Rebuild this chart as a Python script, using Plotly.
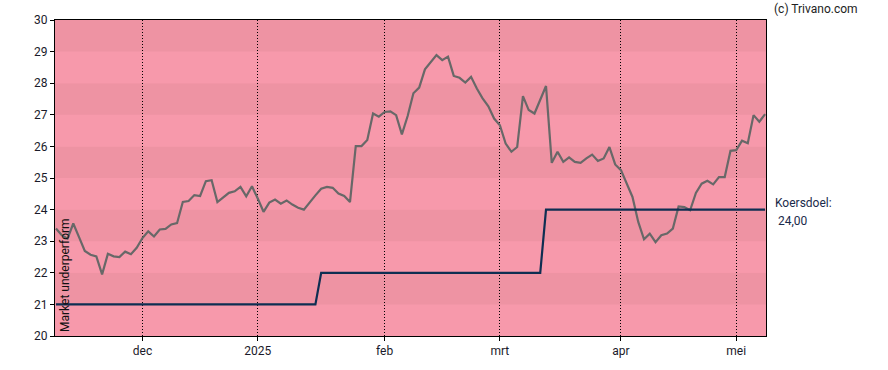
import pandas as pd
import plotly.graph_objects as go

# Trading days (Euronext), holidays removed
holidays = ["2024-12-25", "2024-12-26", "2025-01-01", "2025-04-18", "2025-04-21", "2025-05-01"]
dates = [d for d in pd.bdate_range("2024-11-11", "2025-05-09") if d.strftime("%Y-%m-%d") not in holidays]

price = [
    23.40, 23.19, 23.08, 23.56, 23.13, 22.69, 22.57, 22.52, 21.95, 22.60,
    22.52, 22.50, 22.67, 22.59, 22.79, 23.10, 23.31, 23.15, 23.37, 23.39,
    23.53, 23.57, 24.24, 24.27, 24.46, 24.43, 24.90, 24.93, 24.24, 24.40,
    24.53, 24.58, 24.72, 24.42, 24.74, 24.35, 23.93, 24.22, 24.32, 24.19,
    24.29, 24.16, 24.06, 24.00, 24.24, 24.45, 24.66, 24.72, 24.69, 24.51,
    24.43, 24.24, 26.01, 26.01, 26.20, 27.04, 26.94, 27.09, 27.11, 26.99,
    26.38, 26.96, 27.68, 27.86, 28.44, 28.65, 28.89, 28.73, 28.84, 28.23,
    28.17, 28.02, 28.20, 27.83, 27.52, 27.27, 26.88, 26.67, 26.09, 25.83,
    25.98, 27.59, 27.15, 27.04, 27.46, 27.91, 25.48, 25.83, 25.51, 25.65,
    25.51, 25.48, 25.62, 25.74, 25.54, 25.62, 25.98, 25.43, 25.25, 24.82,
    24.40, 23.61, 23.06, 23.24, 22.97, 23.19, 23.24, 23.40, 24.10, 24.08,
    23.98, 24.53, 24.82, 24.91, 24.80, 25.03, 25.03, 25.86, 25.88, 26.18,
    26.10, 26.99, 26.78, 27.02,
]

# Target price (koersdoel) changes: effective date -> value
target_change_dates = ["2024-11-11", "2025-01-17", "2025-03-13"]
target_change_values = [21.0, 22.0, 24.0]

month_labels = ["dec", "2025", "feb", "mrt", "apr", "mei"]
rating_label = "Market underperform"
target_label = "Koersdoel:"
target_value_label = "24,00"
copyright_label = "(c) Trivano.com"

n = min(len(dates), len(price))
x = list(range(n))

target = []
for d in dates[:n]:
    v = None
    for cd, cv in zip(target_change_dates, target_change_values):
        if d >= pd.Timestamp(cd):
            v = cv
    target.append(v)

tickvals = []
for i in range(1, n):
    if dates[i].month != dates[i - 1].month:
        tickvals.append(i)
tickvals = tickvals[:len(month_labels)]

fig = go.Figure()

dark_band = "#EE93A3"
light_band = "#F799AB"
shapes = []
for lvl in range(20, 30):
    shapes.append(dict(type="rect", xref="paper", yref="y", x0=0, x1=1, y0=lvl, y1=lvl + 1,
                       fillcolor=dark_band if (lvl % 2 == 1) else light_band,
                       line=dict(width=0), layer="below"))

fig.add_trace(go.Scatter(x=x, y=price, mode="lines",
                         line=dict(color="#686868", width=2.2), hoverinfo="skip"))
fig.add_trace(go.Scatter(x=x, y=target, mode="lines",
                         line=dict(color="#0E2E52", width=2.2), hoverinfo="skip"))

font_family = "Roboto, Arial, sans-serif"

fig.update_layout(
    width=888, height=370,
    margin=dict(l=55, r=122, t=20, b=34),
    paper_bgcolor="white",
    plot_bgcolor=light_band,
    showlegend=False,
    shapes=shapes,
    font=dict(family=font_family, size=12, color="#1a1a2a"),
    xaxis=dict(
        range=[-0.17, 123.16],
        tickmode="array", tickvals=tickvals, ticktext=month_labels,
        showgrid=True, gridcolor="black", griddash="1px,2px", gridwidth=1,
        showline=True, linecolor="black", linewidth=1, mirror=True,
        ticks="outside", ticklen=4, tickcolor="black",
        zeroline=False, layer="above traces",
        tickfont=dict(size=12),
    ),
    yaxis=dict(
        range=[20, 30], dtick=1, tick0=20,
        showgrid=False,
        showline=True, linecolor="black", linewidth=1, mirror=True,
        ticks="outside", ticklen=4, tickcolor="black",
        zeroline=False,
        tickfont=dict(size=12),
    ),
    annotations=[
        dict(text=rating_label, xref="paper", yref="paper", x=0, y=0, xanchor="left", yanchor="bottom",
             textangle=-90, showarrow=False, xshift=1, yshift=2, font=dict(size=12, color="#111")),
        dict(text=target_label, xref="paper", yref="y", x=1, y=24, xanchor="left", yanchor="middle",
             showarrow=False, xshift=7, yshift=7, font=dict(size=12, color="#1a2a4a")),
        dict(text=target_value_label, xref="paper", yref="y", x=1, y=24, xanchor="left", yanchor="middle",
             showarrow=False, xshift=10, yshift=-11, font=dict(size=12, color="#1a2a4a")),
        dict(text=copyright_label, xref="paper", yref="paper", x=1, y=1, xanchor="left", yanchor="bottom",
             showarrow=False, xshift=6, yshift=2, font=dict(size=12, color="#222")),
    ],
)

fig.write_html("out.html", config={"displayModeBar": False, "staticPlot": True},
               post_script="document.body.style.margin='0';document.body.style.overflow='hidden';")
